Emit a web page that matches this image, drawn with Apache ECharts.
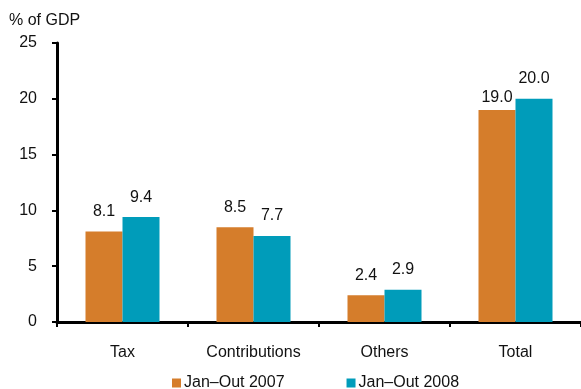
<!DOCTYPE html>
<html>
<head>
<meta charset="utf-8">
<script src="https://cdn.jsdelivr.net/npm/echarts@6/dist/echarts.min.js"></script>
<style>
  html, body { margin: 0; padding: 0; background: #fff; }
  #chart { width: 581px; height: 389px; }
</style>
</head>
<body>
<div id="chart"></div>
<script>
// Revenue by group, % of GDP
const categories = ['Tax', 'Contributions', 'Others', 'Total'];
const seriesNames = ['Jan\u2013Out 2007', 'Jan\u2013Out 2008'];
const values2007 = [8.1, 8.5, 2.4, 19.0];
const values2008 = [9.4, 7.7, 2.9, 20.0];
const yTicks = [0, 5, 10, 15, 20, 25];

const colors = ['#D57D2B', '#009CBA'];
const font = '"Liberation Sans", Arial, sans-serif';
const fontSize = 16;

const chart = echarts.init(document.getElementById('chart'), null, { renderer: 'canvas' });

// the 2007 "Total" label sits closer to its bar so it clears the 2008 label
function barSeries(name, data, color, tightIndex) {
  return {
    name: name,
    type: 'bar',
    data: data.map((v, i) => i === tightIndex
      ? { value: v, label: { distance: 4 } }
      : v),
    barWidth: 37,
    barGap: '0%',
    itemStyle: { color: color },
    label: {
      show: true,
      position: 'top',
      distance: 12,
      color: '#111',
      fontFamily: font,
      fontSize: fontSize,
      formatter: p => p.value.toFixed(1)
    }
  };
}

chart.setOption({
  animation: false,
  textStyle: { fontFamily: font },
  grid: { left: 57, right: 0, top: 43, bottom: 67, containLabel: false },
  graphic: [{
    type: 'text',
    left: 9,
    top: 13,
    style: { text: '% of GDP', fontFamily: font, fontSize: fontSize, fill: '#111' }
  }],
  legend: {
    data: seriesNames,
    left: 172,
    top: 375,
    padding: 0,
    icon: 'rect',
    itemWidth: 9,
    itemHeight: 9,
    itemGap: 62,
    textStyle: { fontFamily: font, fontSize: fontSize, color: '#111', padding: [0, 0, 0, -2] }
  },
  xAxis: {
    type: 'category',
    data: categories,
    boundaryGap: true,
    axisLine: { lineStyle: { color: '#000', width: 3 } },
    axisTick: { show: true, length: 5, lineStyle: { color: '#000', width: 2 } },
    axisLabel: { margin: 23, color: '#111', fontFamily: font, fontSize: fontSize }
  },
  yAxis: {
    type: 'value',
    min: yTicks[0],
    max: yTicks[yTicks.length - 1],
    interval: yTicks[1] - yTicks[0],
    splitLine: { show: false },
    axisLine: { show: true, lineStyle: { color: '#000', width: 3 } },
    axisTick: { show: true, length: 5, lineStyle: { color: '#000', width: 2 } },
    axisLabel: { margin: 20, color: '#111', fontFamily: font, fontSize: fontSize }
  },
  series: [
    barSeries(seriesNames[0], values2007, colors[0], 3),
    barSeries(seriesNames[1], values2008, colors[1], -1)
  ]
});
</script>
</body>
</html>
